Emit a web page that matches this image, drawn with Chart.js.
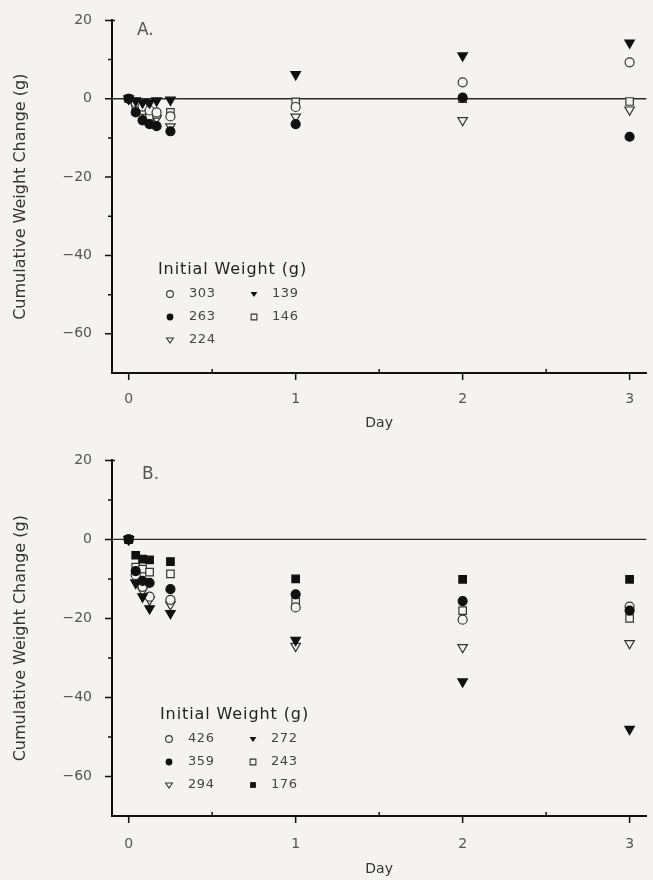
<!DOCTYPE html>
<html><head><meta charset="utf-8">
<script src="https://cdn.jsdelivr.net/npm/chart.js@4.4.1/dist/chart.umd.min.js"></script>
<style>
html,body{margin:0;padding:0;background:#f5f3f0;}
.p{position:relative;width:653px;height:440px;}
canvas{display:block;}
</style></head><body>
<div class="p"><canvas id="a" width="653" height="440"></canvas></div>
<div class="p"><canvas id="b" width="653" height="440"></canvas></div>
<script>
// ---- data ----
const yTickLabels = [20, 0, -20, -40, -60];
const yMinorTicks = [10, -10, -30, -50];
const xTickLabels = [0, 1, 2, 3];
const xMinorTicks = [0.5, 1.5, 2.5];

// Panel A (day of sampling)
const daysA = [0, 0.042, 0.083, 0.125, 0.167, 0.25, 1, 2, 3];
const a303 = [0, -1, -2, -3, -3.5, -4.5, -2.1, 4.2, 9.3];
const a263 = [0, -3.5, -5.5, -6.5, -7, -8.3, -6.5, 0.3, -9.7];
const a224 = [0, -2, -3, -4.5, -5, -7.1, -4.6, -5.5, -2.8];
const a139 = [0, -0.5, -1, -1, -0.5, -0.3, 6.2, 11, 14.3];
const a146 = [0, -1.5, -3, -4.5, -4, -3.5, -0.8, 0, -0.7];

// Panel B
const daysB = [0, 0.042, 0.083, 0.125, 0.25, 1, 2, 3];
const b426 = [0, -9, -12, -14.5, -15.3, -17.2, -20.3, -17];
const b359 = [0, -8, -10.5, -11, -12.6, -13.9, -15.6, -18];
const b294 = [0, -11, -13, -15.3, -16.5, -27, -27.3, -26.3];
const b272 = [0, -11, -14.5, -17.5, -18.7, -25.5, -36, -48];
const b243 = [0, -7, -7.5, -8.3, -8.7, -15.8, -18, -20];
const b176 = [0, -4, -5, -5.2, -5.6, -10, -10.1, -10.1];

const BG = '#f5f3f0';
const INK = '#111';
const FONT = '"DejaVu Sans", "Liberation Sans", sans-serif';

function pts(days, vals){ return days.map((d,i)=>({x:d, y:vals[i]})); }

const MARK = {
  oc:{pointStyle:'circle', fill:false, rot:0, r:4.5},
  fc:{pointStyle:'circle', fill:true, rot:0, r:4.5},
  ot:{pointStyle:'triangle', fill:false, rot:180, r:5.5},
  ft:{pointStyle:'triangle', fill:true, rot:180, r:5.5},
  os:{pointStyle:'rect', fill:false, rot:0, r:5.3},
  fs:{pointStyle:'rect', fill:true, rot:0, r:5.3}
};

function ds(label, days, vals, m){
  const s = MARK[m];
  return {
    label, data: pts(days, vals), showLine:false,
    pointStyle: s.pointStyle, pointRotation: s.rot,
    pointRadius: s.r,
    pointBorderWidth: 1.2,
    pointBorderColor: s.fill ? INK : '#333',
    pointBackgroundColor: s.fill ? INK : BG
  };
}

function drawSym(ctx, m, x, y, r){
  const s = MARK[m];
  ctx.save();
  ctx.beginPath();
  if (s.pointStyle==='circle') ctx.arc(x, y, r, 0, Math.PI*2);
  else if (s.pointStyle==='rect') ctx.rect(x-r*0.85, y-r*0.85, r*1.7, r*1.7);
  else { ctx.moveTo(x-r, y-r*0.6); ctx.lineTo(x+r, y-r*0.6); ctx.lineTo(x, y+r*0.9); ctx.closePath(); }
  ctx.lineWidth = 1.1;
  if (s.fill){ ctx.fillStyle = INK; ctx.fill(); }
  else { ctx.fillStyle = BG; ctx.fill(); ctx.strokeStyle = '#333'; ctx.stroke(); }
  ctx.restore();
}

function fmt(v){ return v < 0 ? '\u2212' + Math.abs(v) : String(v); }

function makeChart(id, cfg){
  const plugin = {
    id: 'deco'+id,
    beforeDraw(chart){
      const ctx = chart.ctx;
      ctx.save(); ctx.fillStyle = BG; ctx.fillRect(0,0,chart.width,chart.height); ctx.restore();
    },
    beforeDatasetsDraw(chart){
      const ctx = chart.ctx, ys = chart.scales.y, ca = chart.chartArea;
      ctx.save();
      ctx.strokeStyle = '#2a2a2a'; ctx.lineWidth = 1.4;
      ctx.beginPath();
      const y0 = ys.getPixelForValue(0);
      ctx.moveTo(ca.left, y0); ctx.lineTo(ca.right, y0); ctx.stroke();
      ctx.restore();
    },
    afterDraw(chart){
      const ctx = chart.ctx, xs = chart.scales.x, ys = chart.scales.y, ca = chart.chartArea;
      ctx.save();
      ctx.strokeStyle = INK; ctx.lineWidth = 1.5;
      ctx.beginPath();
      yTickLabels.forEach(v=>{ const p = ys.getPixelForValue(v); ctx.moveTo(ca.left-7, p); ctx.lineTo(ca.left, p); });
      yMinorTicks.forEach(v=>{ const p = ys.getPixelForValue(v); ctx.moveTo(ca.left-4, p); ctx.lineTo(ca.left, p); });
      const ptop = ys.getPixelForValue(20); ctx.moveTo(ca.left, ptop); ctx.lineTo(ca.left+3, ptop);
      xTickLabels.forEach(v=>{ const p = xs.getPixelForValue(v); ctx.moveTo(p, ca.bottom); ctx.lineTo(p, ca.bottom+7); });
      xMinorTicks.forEach(v=>{ const p = xs.getPixelForValue(v); ctx.moveTo(p, ca.bottom); ctx.lineTo(p, ca.bottom-4); });
      ctx.stroke();
      // panel label
      ctx.fillStyle = '#555'; ctx.font = '17px ' + FONT; ctx.textBaseline = 'middle'; ctx.textAlign = 'left';
      ctx.fillText(cfg.panel, cfg.panelX, cfg.panelY);
      // legend
      ctx.fillStyle = '#222'; ctx.font = '16px ' + FONT;
      try { ctx.letterSpacing = '0.9px'; } catch(e) {}
      ctx.fillText('Initial Weight (g)', cfg.legX, cfg.legY);
      try { ctx.letterSpacing = '0.6px'; } catch(e) {}
      ctx.font = '13px ' + FONT;
      cfg.legend.forEach(it=>{
        const sx = cfg.colSym[it.col], tx = cfg.colTxt[it.col], yy = cfg.rows[it.row];
        drawSym(ctx, it.m, sx, yy, 3.4);
        ctx.fillStyle = '#444';
        ctx.fillText(it.t, tx, yy);
      });
      ctx.restore();
    }
  };
  return new Chart(document.getElementById(id), {
    type: 'scatter',
    data: { datasets: cfg.datasets },
    options: {
      responsive: false, animation: false,
      layout: { padding: { top: cfg.top, right: 6, left: 0, bottom: 0 } },
      plugins: { legend: {display:false}, tooltip:{enabled:false} },
      scales: {
        x: {
          type: 'linear', min: -0.1, max: 3.1,
          grid: { display: false },
          border: { display: true, color: INK, width: 2 },
          afterBuildTicks(s){ s.ticks = xTickLabels.map(v=>({value:v})); },
          afterFit(s){ s.height = 440 - cfg.bottom; },
          ticks: { color: '#555', font: { family: FONT, size: 14 }, padding: cfg.xPad, maxRotation: 0, callback: v=>String(v) },
          title: { display: true, text: 'Day', color: '#333', font: { family: FONT, size: 14 }, padding: { top: 0, bottom: cfg.dayPad } }
        },
        y: {
          type: 'linear', min: -70, max: 20,
          grid: { display: false },
          border: { display: true, color: INK, width: 2 },
          afterBuildTicks(s){ s.ticks = yTickLabels.map(v=>({value:v})); },
          afterFit(s){ s.width = 112; },
          ticks: { color: '#555', font: { family: FONT, size: 14 }, padding: 12, callback: v=>fmt(v) },
          title: { display: true, text: 'Cumulative Weight Change (g)', color: '#333', font: { family: FONT, size: 16 }, padding: { top: 11, bottom: 0 } }
        }
      }
    },
    plugins: [plugin]
  });
}

// Chart.js draws the first dataset on top, so the filled circles come first.
makeChart('a', {
  top: 17.5, bottom: 373, xPad: 10, dayPad: 8,
  panel: 'A.', panelX: 137, panelY: 31,
  legX: 158, legY: 270, rows: [294, 317, 340], colSym: [170, 254], colTxt: [189, 272],
  legend: [
    {m:'oc', t:'303', col:0, row:0}, {m:'fc', t:'263', col:0, row:1}, {m:'ot', t:'224', col:0, row:2},
    {m:'ft', t:'139', col:1, row:0}, {m:'os', t:'146', col:1, row:1}
  ],
  datasets: [
    ds('263', daysA, a263, 'fc'),
    ds('139', daysA, a139, 'ft'),
    ds('303', daysA, a303, 'oc'),
    ds('146', daysA, a146, 'os'),
    ds('224', daysA, a224, 'ot')
  ]
});

makeChart('b', {
  top: 19.8, bottom: 376, xPad: 12, dayPad: 2,
  panel: 'B.', panelX: 142, panelY: 35,
  legX: 160, legY: 275, rows: [299, 322, 345], colSym: [169, 253], colTxt: [188, 271],
  legend: [
    {m:'oc', t:'426', col:0, row:0}, {m:'fc', t:'359', col:0, row:1}, {m:'ot', t:'294', col:0, row:2},
    {m:'ft', t:'272', col:1, row:0}, {m:'os', t:'243', col:1, row:1}, {m:'fs', t:'176', col:1, row:2}
  ],
  datasets: [
    ds('359', daysB, b359, 'fc'),
    ds('176', daysB, b176, 'fs'),
    ds('272', daysB, b272, 'ft'),
    ds('426', daysB, b426, 'oc'),
    ds('243', daysB, b243, 'os'),
    ds('294', daysB, b294, 'ot')
  ]
});
</script>
</body></html>
